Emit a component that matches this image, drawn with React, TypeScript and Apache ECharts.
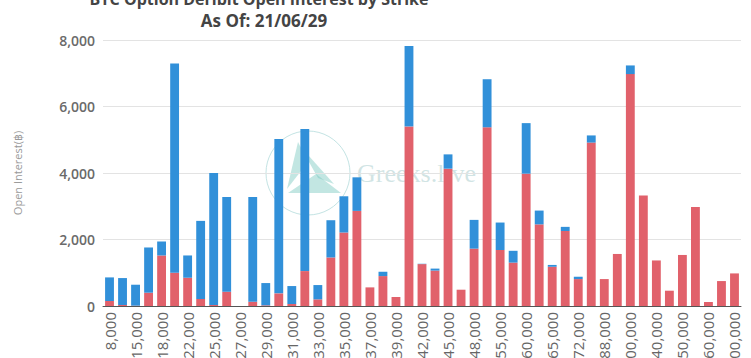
import React, { useEffect, useRef } from "react";
import * as echarts from "echarts";

const strikes = [
  "8,000", "10,000", "15,000", "16,000", "18,000", "20,000", "22,000", "24,000", "25,000", "26,000",
  "27,000", "28,000", "29,000", "30,000", "31,000", "32,000", "33,000", "34,000", "35,000", "36,000",
  "37,000", "38,000", "39,000", "40,000", "42,000", "44,000", "45,000", "46,000", "48,000", "50,000",
  "55,000", "58,000", "60,000", "64,000", "65,000", "70,000", "72,000", "80,000", "88,000", "90,000",
  "100,000", "120,000", "140,000", "145,000", "150,000", "155,000", "160,000", "180,000", "200,000",
];

const callOI = [
  150, 30, 10, 400, 1520, 1000, 850, 210, 30, 430,
  0, 130, 20, 380, 60, 1050, 200, 1460, 2210, 2860,
  560, 900, 270, 5400, 1260, 1065, 4130, 490, 1725, 5375,
  1685, 1305, 3980, 2455, 1180, 2255, 810, 4915, 810, 1565,
  6975, 3325, 1370, 460, 1535, 2980, 120, 750, 980,
];

const putOI = [
  710, 810, 630, 1360, 420, 6290, 670, 2350, 3970, 2850,
  0, 3150, 670, 4640, 540, 4270, 430, 1120, 1090, 1010,
  0, 130, 0, 2420, 10, 60, 430, 0, 865, 1445,
  825, 355, 1520, 415, 55, 125, 70, 215, 0, 0,
  260, 0, 0, 0, 0, 0, 0, 0, 0,
];

const yTicks = [0, 2000, 4000, 6000, 8000];

const titleLine1 = "BTC Option Deribit Open Interest by Strike";
const titleLine2 = "As Of: 21/06/29";

export default function App() {
  const ref = useRef<HTMLDivElement>(null);

  useEffect(() => {
    if (!ref.current) return;
    const chart = echarts.init(ref.current, undefined, { renderer: "svg" });
    const teal = "rgba(120,200,190,0.45)";
    chart.setOption({
      animation: false,
      backgroundColor: "#ffffff",
      grid: {
        left: 103,
        right: 10,
        top: 40,
        bottom: 52,
        containLabel: false,
        outerBoundsMode: "none",
      },
      graphic: [
        {
          type: "text",
          z: -10,
          x: 259,
          y: -1,
          style: {
            text: titleLine1,
            fill: "#444444",
            font: "bold 16px 'Open Sans'",
            textAlign: "center",
            textVerticalAlign: "middle",
          },
        },
        {
          type: "text",
          z: -10,
          x: 264,
          y: 20,
          style: {
            text: titleLine2,
            fill: "#444444",
            font: "bold 17px 'Open Sans'",
            textAlign: "center",
            textVerticalAlign: "middle",
          },
        },
        {
          type: "circle",
          z: -10,
          silent: true,
          shape: { cx: 308, cy: 173, r: 42 },
          style: { fill: "none", stroke: "rgba(170,215,215,0.7)", lineWidth: 1 },
        },
        {
          type: "polygon",
          z: -10,
          silent: true,
          shape: { points: [[298, 142], [308, 162], [287, 189]] },
          style: { fill: teal },
        },
        {
          type: "polygon",
          z: -10,
          silent: true,
          shape: { points: [[300, 146], [334, 184], [318, 178]] },
          style: { fill: teal },
        },
        {
          type: "polygon",
          z: -10,
          silent: true,
          shape: { points: [[288, 193], [341, 193], [316, 174]] },
          style: { fill: teal },
        },
        {
          type: "text",
          z: -10,
          silent: true,
          x: 357,
          y: 173,
          style: {
            text: "Greeks.live",
            fill: "rgba(170,205,205,0.55)",
            font: "26px 'Liberation Serif'",
            textVerticalAlign: "middle",
          },
        },
      ],
      xAxis: {
        type: "category",
        data: strikes,
        axisLine: { lineStyle: { color: "#555555" } },
        axisTick: { lineStyle: { color: "#555555" } },
        axisLabel: {
          interval: 1,
          rotate: 90,
          fontSize: 15,
          color: "#666666",
          fontFamily: "Open Sans",
          margin: 6,
        },
      },
      yAxis: {
        type: "value",
        min: yTicks[0],
        max: yTicks[yTicks.length - 1],
        interval: 2000,
        name: "Open Interest(฿)",
        nameLocation: "middle",
        nameGap: 80,
        nameTextStyle: { color: "#999999", fontSize: 11, fontFamily: "Open Sans" },
        axisLine: { show: false },
        axisTick: { show: false },
        splitLine: { lineStyle: { color: "#e3e3e3" } },
        axisLabel: {
          fontSize: 14,
          fontWeight: 600,
          color: "#6a6a6a",
          fontFamily: "Open Sans",
          margin: 8,
          formatter: (v: number) => v.toLocaleString("en-US"),
        },
      },
      series: [
        {
          name: "Call",
          type: "bar",
          stack: "oi",
          data: callOI,
          barWidth: "68%",
          itemStyle: { color: "#E1616B" },
        },
        {
          name: "Put",
          type: "bar",
          stack: "oi",
          data: putOI,
          barWidth: "68%",
          itemStyle: { color: "#3190D9" },
        },
      ],
    });
    return () => chart.dispose();
  }, []);

  return (
    <div
      ref={ref}
      style={{ position: "fixed", left: 0, top: 0, width: 751, height: 358 }}
    />
  );
}
